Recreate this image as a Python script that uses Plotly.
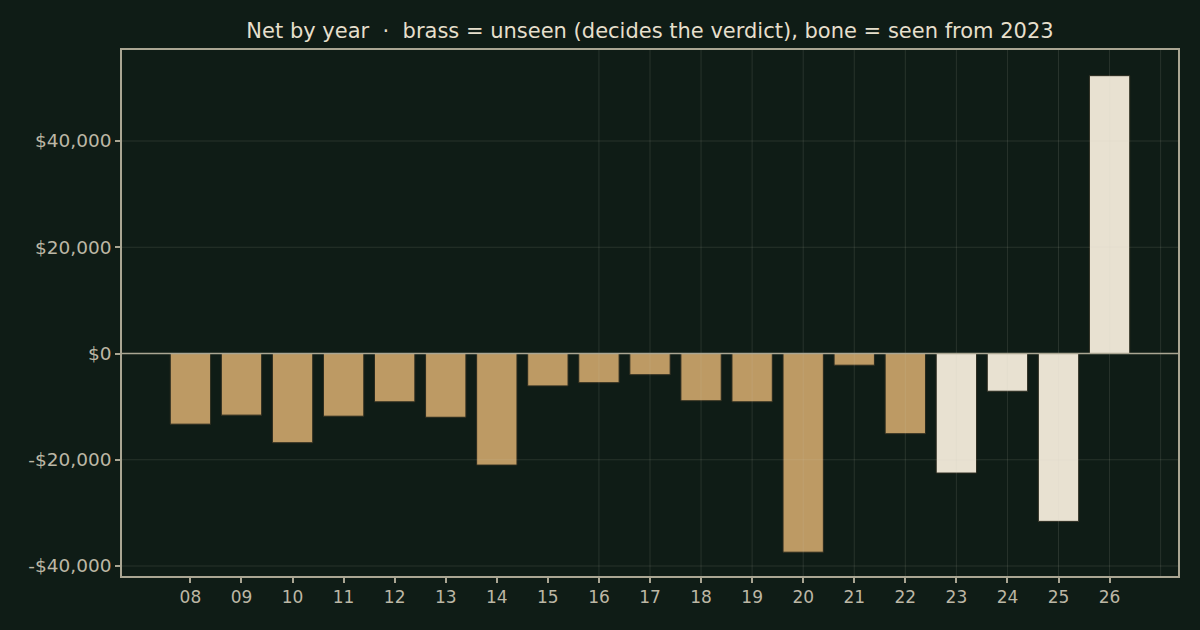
import plotly.graph_objects as go

years = ["08", "09", "10", "11", "12", "13", "14", "15", "16", "17",
         "18", "19", "20", "21", "22", "23", "24", "25", "26"]
net = [-13300, -11600, -16800, -11800, -9100, -12000, -21000, -6100, -5500, -4000,
       -8900, -9100, -37400, -2200, -15100, -22500, -7100, -31600, 52300]
first_seen = 23

y_ticks = [-40000, -20000, 0, 20000, 40000]
y_labels = ["-$40,000", "-$20,000", "$0", "$20,000", "$40,000"]

BG = "#0f1c16"
BRASS = "#bd9a64"
BONE = "#e8e1d1"
AXIS = "#aaa693"
TEXT = "#bcb7a5"
GRID = "rgba(210,210,190,0.13)"

colors = [BONE if int(y) >= first_seen else BRASS for y in years]

fig = go.Figure()
fig.add_trace(go.Bar(
    x=years, y=net,
    marker=dict(color=colors, line=dict(color="#2a2a1e", width=1)),
    width=0.79,
    hovertemplate="%{x}: %{y:$,.0f}<extra></extra>",
))

# grid drawn over the bars, like the original
for t in y_ticks:
    fig.add_shape(type="line", xref="paper", x0=0, x1=1, yref="y", y0=t, y1=t,
                  line=dict(color=GRID, width=1), layer="above")
for yr in years:
    fig.add_shape(type="line", xref="x", x0=yr, x1=yr, yref="paper", y0=0, y1=1,
                  line=dict(color=GRID, width=1), layer="above")
fig.add_hline(y=0, line=dict(color=AXIS, width=1.5), layer="above")

fig.update_layout(
    width=1200, height=630,
    paper_bgcolor=BG, plot_bgcolor=BG,
    margin=dict(l=122, r=22, t=50, b=54),
    showlegend=False,
    font=dict(family="DejaVu Sans", color=TEXT, size=16),
    title=dict(text="Net by year  ·  brass = unseen (decides the verdict), bone = seen from 2023",
               x=0.5, xref="paper", xanchor="center", y=0.951, yanchor="middle",
               font=dict(size=21, color="#e6dfcc")),
)
fig.update_xaxes(
    range=[-1.34, 19.34], showgrid=False, zeroline=False,
    showline=True, mirror=True, linecolor=AXIS, linewidth=1.5,
    ticks="outside", ticklen=5, tickwidth=1.5, tickcolor=AXIS,
    tickfont=dict(size=17, color=TEXT),
)
fig.update_yaxes(
    range=[-41880, 57130], showgrid=False, zeroline=False,
    tickvals=y_ticks, ticktext=y_labels,
    showline=True, mirror=True, linecolor=AXIS, linewidth=1.5,
    ticks="outside", ticklen=5, tickwidth=1.5, tickcolor=AXIS,
    tickfont=dict(size=18.5, color=TEXT),
)

fig.write_html("out.html", config={"displayModeBar": False},
               post_script="document.body.style.margin='0';")
